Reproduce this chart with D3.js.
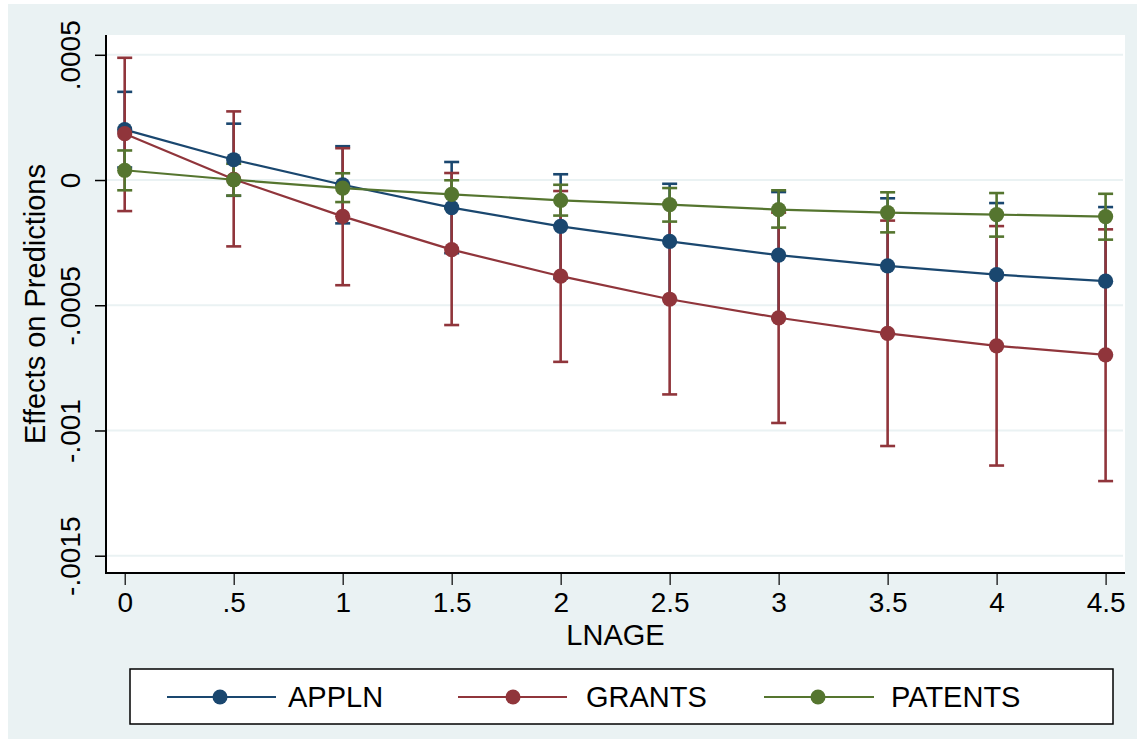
<!DOCTYPE html>
<html>
<head>
<meta charset="utf-8">
<script src="https://cdn.jsdelivr.net/npm/d3@7"></script>
<style>
html,body{margin:0;padding:0;background:#ffffff;}
svg{display:block;}
text{font-family:"Liberation Sans",Arial,Helvetica,sans-serif;fill:#000;}
</style>
</head>
<body>
<svg id="chart" width="1137" height="740"></svg>
<script>
// ---- data ----
const lnage = [0, 0.5, 1, 1.5, 2, 2.5, 3, 3.5, 4, 4.5];
const xTickLabels = ["0", ".5", "1", "1.5", "2", "2.5", "3", "3.5", "4", "4.5"];
const yTickValues = [0.0005, 0, -0.0005, -0.001, -0.0015];
const yTickLabels = [".0005", "0", "-.0005", "-.001", "-.0015"];
const seriesNames = ["APPLN", "GRANTS", "PATENTS"];

const applnMean = [0.000201, 0.000081, -0.000019, -0.000110, -0.000185, -0.000245, -0.000300, -0.000343, -0.000378, -0.000404];
const applnHi   = [0.000352, 0.000225, 0.000135, 0.000072, 0.000023, -0.000015, -0.000048, -0.000073, -0.000092, -0.000108];
const applnLo   = [0.000050, -0.000063, -0.000173, -0.000292, -0.000393, -0.000475, -0.000552, -0.000613, -0.000664, -0.000700];

const grantsMean = [0.000185, 0.000003, -0.000145, -0.000278, -0.000384, -0.000476, -0.000550, -0.000612, -0.000662, -0.000698];
const grantsHi   = [0.000488, 0.000274, 0.000127, 0.000028, -0.000044, -0.000096, -0.000130, -0.000162, -0.000184, -0.000197];
const grantsLo   = [-0.000124, -0.000265, -0.000420, -0.000579, -0.000726, -0.000856, -0.000970, -0.001062, -0.001140, -0.001202];

const patentsMean = [0.000039, 0.000001, -0.000032, -0.000057, -0.000081, -0.000098, -0.000118, -0.000130, -0.000138, -0.000146];
const patentsHi   = [0.000118, 0.000065, 0.000027, -0.000001, -0.000019, -0.000032, -0.000041, -0.000049, -0.000052, -0.000055];
const patentsLo   = [-0.000041, -0.000062, -0.000088, -0.000113, -0.000142, -0.000166, -0.000190, -0.000209, -0.000226, -0.000238];

const colors = ["#1a476f", "#90353b", "#55752f"];

const series = [
  {name: seriesNames[0], mean: applnMean, lo: applnLo, hi: applnHi, color: colors[0]},
  {name: seriesNames[1], mean: grantsMean, lo: grantsLo, hi: grantsHi, color: colors[1]},
  {name: seriesNames[2], mean: patentsMean, lo: patentsLo, hi: patentsHi, color: colors[2]}
];

// ---- layout ----
const svg = d3.select("#chart");
const plot = {left: 106, right: 1125, top: 35, bottom: 573};
const bg = "#eaf2f3";
const fontSize = 28;
const titleSize = 29;

svg.append("rect").attr("x", 8).attr("y", 4).attr("width", 1137 - 8).attr("height", 739 - 4).attr("fill", bg);
svg.append("rect").attr("x", plot.left).attr("y", plot.top)
  .attr("width", plot.right - plot.left).attr("height", plot.bottom - plot.top).attr("fill", "#ffffff");

const x = d3.scaleLinear().domain([-0.0858, 4.589]).range([plot.left, plot.right]);
const y = d3.scaleLinear().domain([-0.001569, 0.000579]).range([plot.bottom, plot.top]);

// gridlines
svg.append("g").selectAll("line").data(yTickValues).join("line")
  .attr("x1", plot.left + 1).attr("x2", plot.right - 2)
  .attr("y1", d => y(d)).attr("y2", d => y(d))
  .attr("stroke", "#eaf2f3").attr("stroke-width", 2);

// y axis
const yAxis = d3.axisLeft(y).tickValues(yTickValues).tickSize(11).tickPadding(14)
  .tickFormat((d, i) => yTickLabels[i]);
const gy = svg.append("g").attr("transform", `translate(${plot.left},0)`).call(yAxis);
gy.select(".domain").attr("stroke", "#000").attr("stroke-width", 2)
  .attr("d", `M0,${plot.top}V${plot.bottom + 1}`);
gy.selectAll(".tick line").attr("stroke", "#000").attr("stroke-width", 1.5);
gy.selectAll(".tick text")
  .attr("font-size", fontSize)
  .attr("font-family", '"Liberation Sans",Arial,sans-serif')
  .attr("fill", "#000")
  .attr("text-anchor", "middle")
  .attr("dy", 0)
  .attr("x", 0).attr("y", 0)
  .attr("transform", "translate(-26,0) rotate(-90)");

// x axis
const xAxis = d3.axisBottom(x).tickValues(lnage).tickSize(12).tickPadding(8)
  .tickFormat((d, i) => xTickLabels[i]);
const gx = svg.append("g").attr("transform", `translate(0,${plot.bottom})`).call(xAxis);
gx.select(".domain").attr("stroke", "#000").attr("stroke-width", 2)
  .attr("d", `M${plot.left - 1},0H${plot.right}`);
gx.selectAll(".tick line").attr("stroke", "#000").attr("stroke-width", 1.2);
gx.selectAll(".tick text")
  .attr("font-size", fontSize)
  .attr("font-family", '"Liberation Sans",Arial,sans-serif')
  .attr("fill", "#000")
  .attr("dy", 0).attr("y", 39);

// axis titles
svg.append("text").attr("x", (plot.left + plot.right) / 2).attr("y", 645)
  .attr("text-anchor", "middle").attr("font-size", titleSize).text("LNAGE");
svg.append("text")
  .attr("transform", `translate(45,${(plot.top + plot.bottom) / 2}) rotate(-90)`)
  .attr("text-anchor", "middle").attr("font-size", titleSize).text("Effects on Predictions");

// error bars (drawn first)
const capHalf = 7.5;
series.forEach(s => {
  const g = svg.append("g");
  lnage.forEach((lx, i) => {
    const px = x(lx);
    g.append("line").attr("x1", px).attr("x2", px)
      .attr("y1", y(s.hi[i])).attr("y2", y(s.lo[i]))
      .attr("stroke", s.color).attr("stroke-width", 2.6);
    [s.hi[i], s.lo[i]].forEach(v => {
      g.append("line").attr("x1", px - capHalf).attr("x2", px + capHalf)
        .attr("y1", y(v)).attr("y2", y(v))
        .attr("stroke", s.color).attr("stroke-width", 2.6);
    });
  });
});

// connected lines with markers
const lineGen = d3.line().x((d, i) => x(lnage[i])).y(d => y(d));
series.forEach(s => {
  svg.append("path").datum(s.mean).attr("d", lineGen)
    .attr("fill", "none").attr("stroke", s.color).attr("stroke-width", 2.2);
  svg.append("g").selectAll("circle").data(s.mean).join("circle")
    .attr("cx", (d, i) => x(lnage[i])).attr("cy", d => y(d)).attr("r", 7.6)
    .attr("fill", s.color);
});

// legend
const leg = {x1: 130, x2: 1113, y1: 669, y2: 724};
svg.append("rect").attr("x", leg.x1).attr("y", leg.y1)
  .attr("width", leg.x2 - leg.x1).attr("height", leg.y2 - leg.y1)
  .attr("fill", "#fff").attr("stroke", "#000").attr("stroke-width", 1.5);
const legItems = [
  {l1: 167, l2: 276, m: 220, t: 288},
  {l1: 458, l2: 567, m: 513, t: 586},
  {l1: 764, l2: 874, m: 818, t: 891}
];
const legY = 697;
series.forEach((s, i) => {
  const it = legItems[i];
  svg.append("line").attr("x1", it.l1).attr("x2", it.l2).attr("y1", legY).attr("y2", legY)
    .attr("stroke", s.color).attr("stroke-width", 2.2);
  svg.append("circle").attr("cx", it.m).attr("cy", legY).attr("r", 7.5).attr("fill", s.color);
  svg.append("text").attr("x", it.t).attr("y", 707).attr("font-size", titleSize).text(s.name);
});
</script>
</body>
</html>
